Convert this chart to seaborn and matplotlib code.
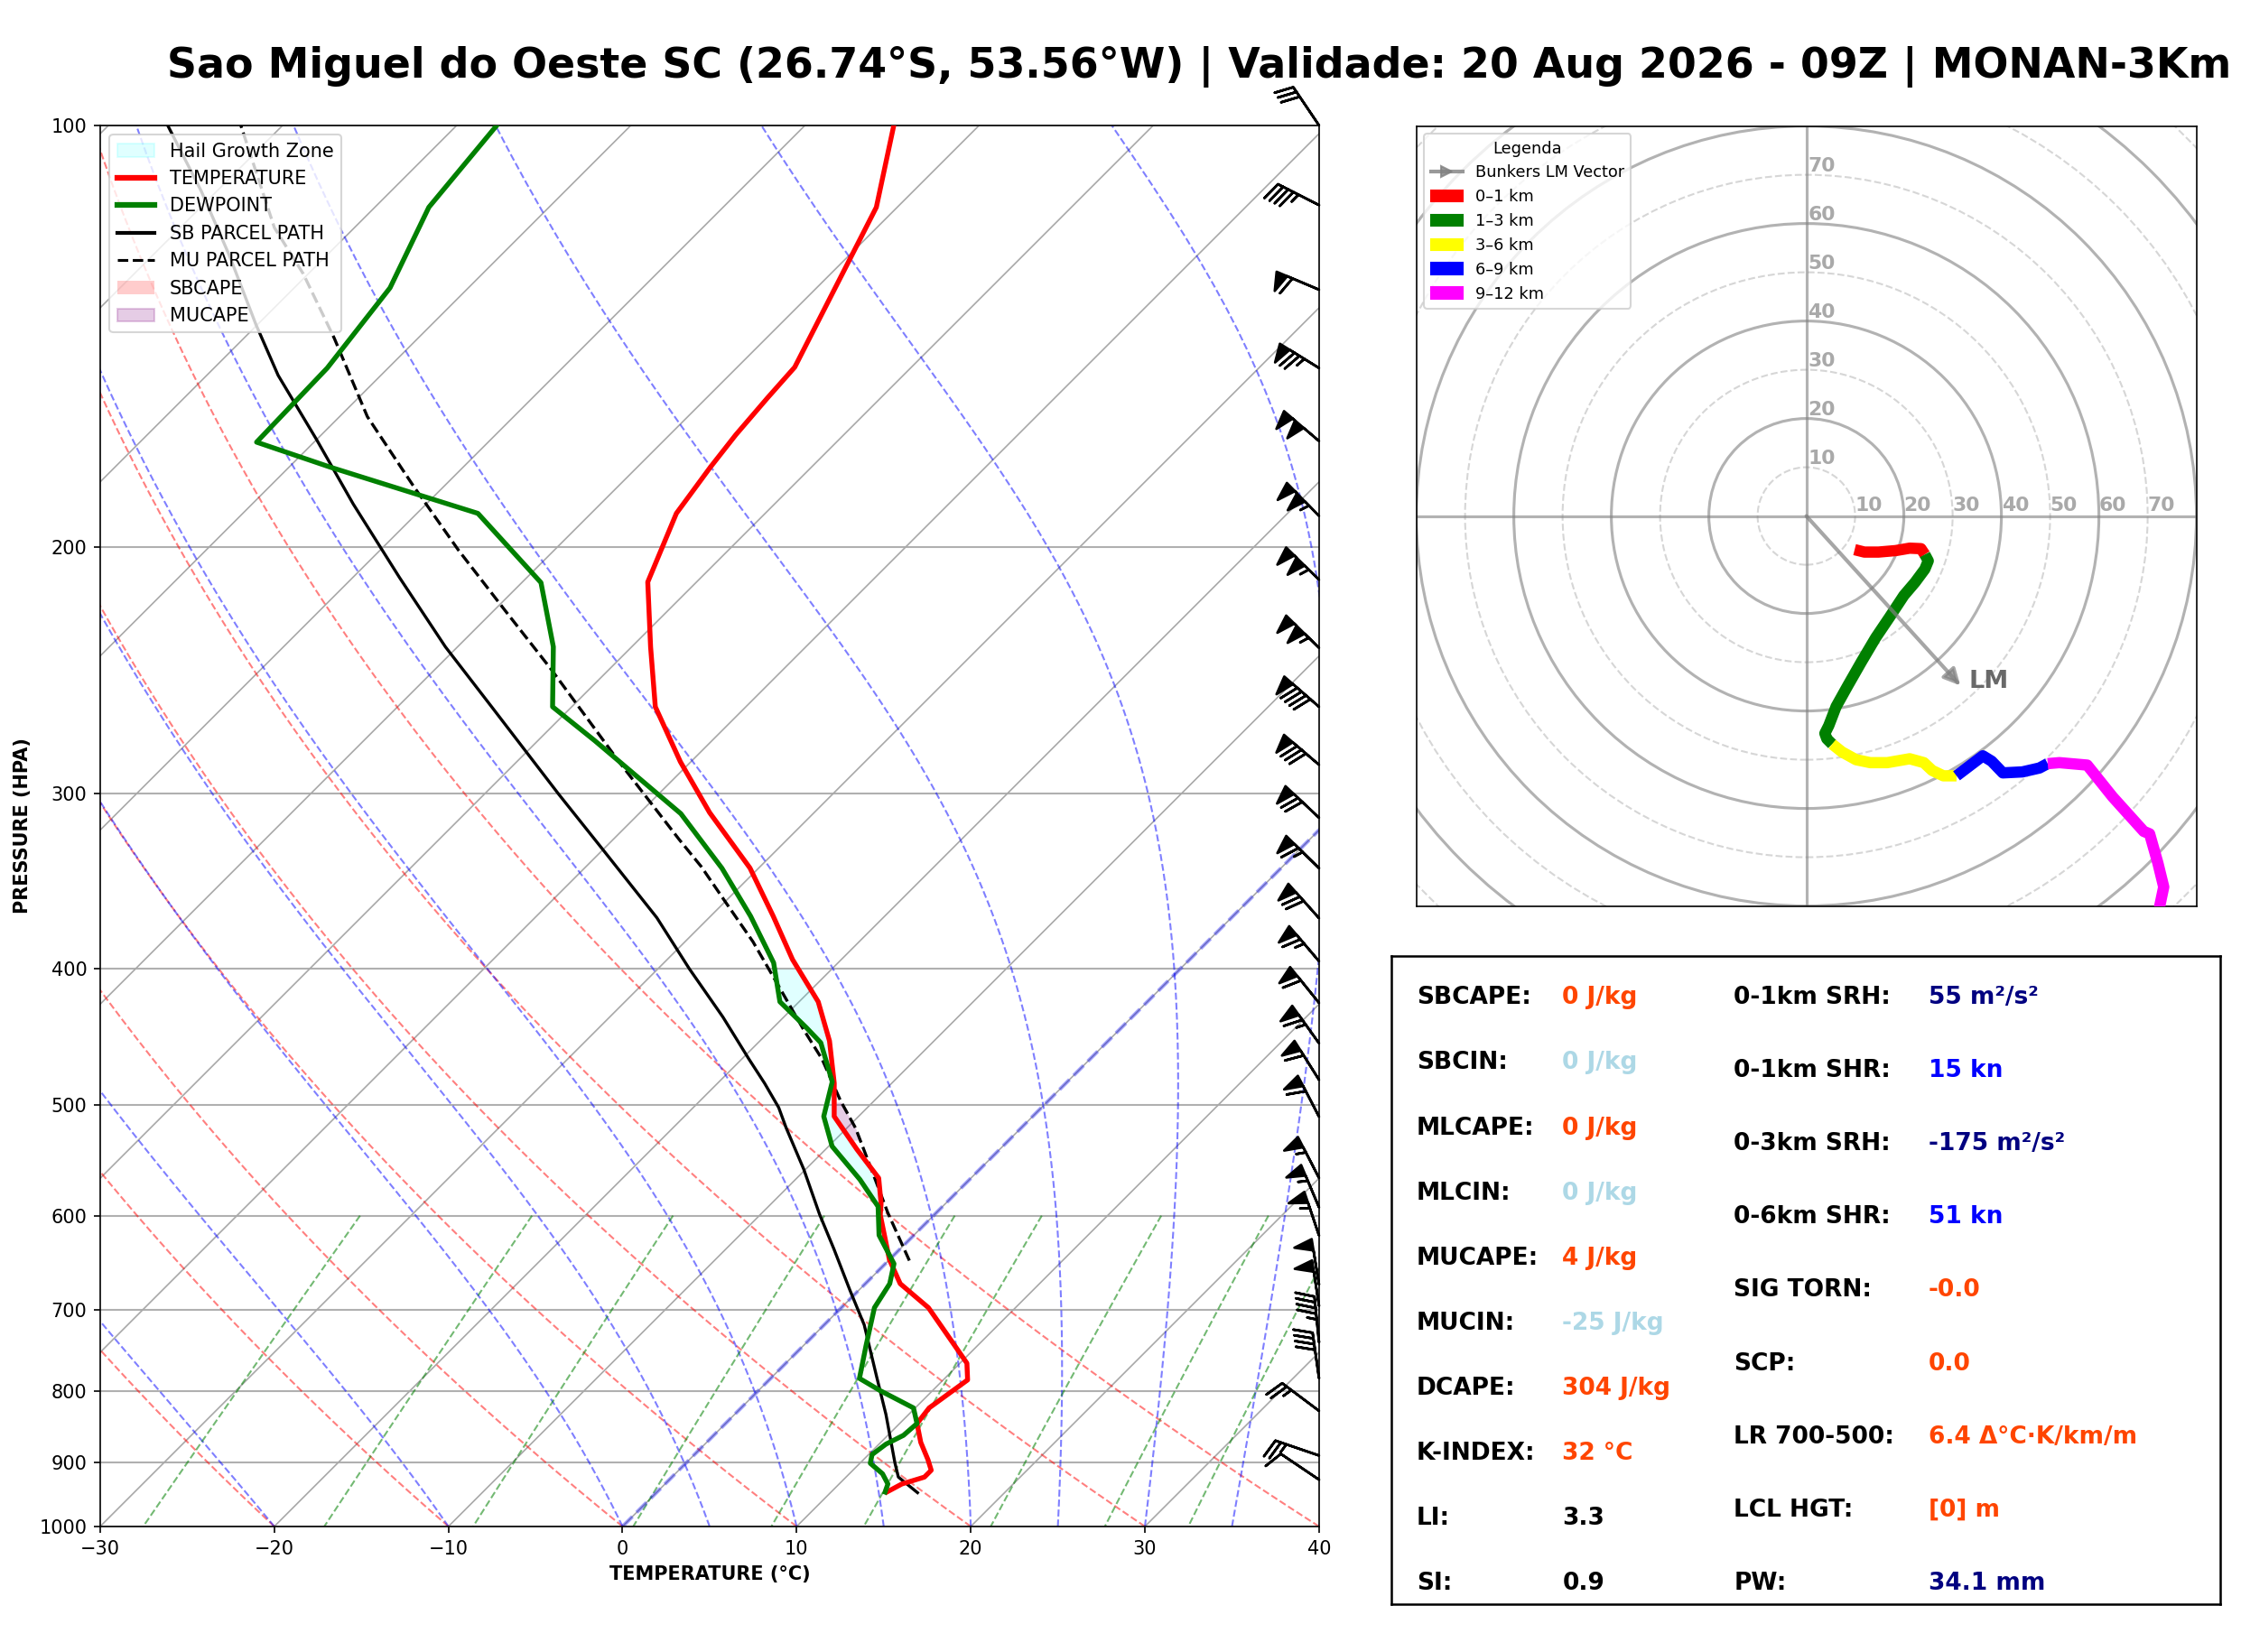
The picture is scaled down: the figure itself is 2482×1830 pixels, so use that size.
import numpy as np
import matplotlib
matplotlib.use("Agg")
import matplotlib.pyplot as plt
import matplotlib.transforms as mtransforms
from matplotlib.lines import Line2D
from matplotlib.patches import Patch, Circle
from matplotlib.ticker import NullLocator
import seaborn as sns

plt.rcParams['font.family'] = ['DejaVu Sans']

TITLE = "Sao Miguel do Oeste SC (26.74°S, 53.56°W) | Validade: 20 Aug 2026 - 09Z | MONAN-3Km"

# Sounding (pressure in hPa, temperature in degC)
temp_p = [945, 932.6, 922.1, 911.8, 896, 871, 844.4, 823, 786, 764.7, 743, 698, 671, 645,
          599.2, 588.2, 564.1, 538.1, 509.7, 482.7, 450.3, 422.2, 393.9, 366.8, 338.9, 309.4,
          284.6, 260, 235.7, 211.8, 189.2, 175.4, 166.3, 156.5, 148.8, 114.4, 100]
temp_c = [13.2, 13.6, 14.5, 14.5, 13.7, 12.3, 11.0, 10.8, 11.4, 10.4, 8.7, 5.0, 2.0, 0.0,
          -3.1, -3.7, -5.3, -8.2, -11.4, -13.3, -16.0, -18.9, -22.8, -26.4, -30.5, -36.0,
          -40.6, -45.2, -48.9, -52.8, -55.1, -55.8, -56.2, -56.5, -56.7, -61.2, -64.9]

dewp_p = [945, 932.6, 917, 901.4, 888.6, 873.5, 860.9, 844.4, 823, 800, 784, 743, 698, 671,
          649.4, 619.6, 591.1, 565.4, 535.4, 509.7, 481.5, 451.6, 440.5, 422.2, 396, 366.8,
          339, 309.9, 275, 260, 235.6, 212, 189.2, 175.4, 168.3, 149, 130.6, 114.4, 100]
dewp_c = [13.1, 12.8, 11.9, 10.6, 10.2, 10.4, 10.9, 11.0, 9.9, 7.0, 5.1, 3.6, 1.9, 1.4,
          0.5, -2.0, -3.7, -6.3, -9.8, -12.0, -13.5, -16.4, -18.1, -21.1, -23.7, -27.7,
          -32.1, -37.6, -46.7, -51.1, -54.5, -58.9, -66.5, -77.6, -83.3, -83.5, -84.5, -86.9, -87.7]

sb_p = [946, 922, 901, 832, 782, 718, 678.4, 633.8, 598.9, 556.1, 519.4, 502.3, 482.7, 463.8,
        432.9, 399.9, 367.7, 328.3, 300.3, 260, 235.6, 210.3, 186.3, 167.6, 150.8, 138.7,
        123.8, 111.4, 100]
sb_c = [15.0, 13.0, 12.0, 8.7, 6.0, 2.3, -0.5, -3.8, -6.6, -10.1, -13.5, -15.1, -17.3, -19.6,
        -23.5, -28.2, -33.0, -40.1, -45.7, -54.6, -60.7, -67.3, -74.2, -80.0, -85.9, -90.1,
        -95.6, -100.9, -106.6]

mu_p = [646, 597, 554, 519.6, 497.1, 463.8, 441.5, 412, 382.5, 358.7, 338, 323.4, 284.7,
        244.6, 221.8, 201, 180.8, 161.4, 141.9, 127.6, 118.3, 100]
mu_c = [1.2, -2.8, -6.4, -9.5, -11.9, -15.4, -18.2, -22.0, -26.1, -29.9, -33.4, -36.2, -44.1,
        -53.3, -59.4, -65.5, -71.8, -78.4, -84.8, -90.3, -94.6, -102.4]

hgz_top, hgz_bottom = 400, 590
mucape_top, mucape_bottom = 498, 530

# wind barbs (knots)
barb_p = [100, 114, 131, 149, 168, 190, 211, 236, 260, 286, 312, 339, 368, 395, 423, 452,
          480, 510, 564, 592, 620, 672, 696, 739, 784, 827, 890, 926]
barb_u = [16.8, 40.1, 55.3, 63.7, 76.0, 73.3, 75.0, 74.9, 67.9, 60.8, 51.0, 46.3, 46.6, 42.1,
          37.7, 37.7, 32.0, 27.6, 25.2, 21.4, 17.5, 8.0, 7.5, 4.5, 5.6, 20.0, 23.7, 8.3]
barb_v = [-24.9, -20.4, -23.4, -39.5, -65.0, -75.2, -73.6, -73.6, -59.1, -52.0, -48.0, -45.6,
          -52.2, -49.5, -46.7, -52.7, -50.8, -53.3, -48.9, -50.7, -52.1, -49.4, -49.4, -44.8,
          -39.6, -15.0, -8.1, -5.6]

# hodograph layers (knots)
hodo_01_u = [9.9, 11.9, 14.8, 18.3, 21.2, 23.5, 24.3]
hodo_01_v = [-6.9, -7.4, -7.4, -7.1, -6.6, -6.7, -7.9]
hodo_13_u = [24.3, 25.0, 24.3, 22.3, 20.0, 17.1, 14.2, 11.3, 8.5, 6.1, 4.6, 3.8, 4.2, 5.3]
hodo_13_v = [-7.9, -9.2, -10.9, -13.6, -16.3, -20.7, -25.0, -29.9, -34.8, -39.1, -43.0, -44.6, -45.7, -46.8]
hodo_36_u = [5.3, 7.3, 10.2, 13.1, 16.6, 21.2, 24.1, 25.8, 28.1, 30.8]
hodo_36_v = [-46.8, -48.4, -50.0, -50.6, -50.6, -49.8, -50.6, -52.2, -53.3, -53.3]
hodo_69_u = [30.8, 33.3, 36.2, 38.0, 40.3, 44.3, 47.8, 49.5]
hodo_69_v = [-53.3, -51.4, -49.2, -50.3, -52.7, -52.5, -51.7, -50.8]
hodo_912_u = [49.5, 51.9, 57.6, 62.8, 69.2, 70.4, 72.1, 73.3, 72.5, 72.0]
hodo_912_v = [-50.8, -50.6, -51.1, -57.6, -64.7, -65.2, -71.2, -76.1, -79.9, -84.0]
lm_u, lm_v = 31.6, -34.8

# indices box
left_labels = ['SBCAPE:', 'SBCIN:', 'MLCAPE:', 'MLCIN:', 'MUCAPE:', 'MUCIN:', 'DCAPE:',
               'K-INDEX:', 'LI:', 'SI:']
left_values = ['0 J/kg', '0 J/kg', '0 J/kg', '0 J/kg', '4 J/kg', '-25 J/kg', '304 J/kg',
               '32 °C', '3.3', '0.9']
left_colors = ['orangered', 'lightblue', 'orangered', 'lightblue', 'orangered', 'lightblue',
               'orangered', 'orangered', 'black', 'black']
right_labels = ['0-1km SRH:', '0-1km SHR:', '0-3km SRH:', '0-6km SHR:', 'SIG TORN:', 'SCP:',
                'LR 700-500:', 'LCL HGT:', 'PW:']
right_values = ['55 m²/s²', '15 kn', '-175 m²/s²', '51 kn', '-0.0', '0.0',
                '6.4 Δ°C·K/km/m', '[0] m', '34.1 mm']
right_colors = ['navy', 'blue', 'navy', 'blue', 'orangered', 'orangered', 'orangered',
                'orangered', 'navy']

DPI = 150
FW, FH = 2482, 1830
fig = plt.figure(figsize=(FW / DPI, FH / DPI), dpi=DPI)

# ---------------- Skew-T ----------------
rect = [0.0447, 0.076, 0.5439, 0.8481]
ax = fig.add_axes(rect)
SK = 70.0 * (rect[3] * FH) / (rect[2] * FW)   # 45 degree skew


def skew(t, p):
    return np.asarray(t, float) + SK * np.log10(1000.0 / np.asarray(p, float))


ax.set_yscale('log')
pp = np.linspace(1000, 100, 181)

# isotherms
for t in range(-120, 41, 10):
    ax.plot(skew(np.full_like(pp, t), pp), pp, color='#a8a8a8', lw=0.8, zorder=1)

# dry adiabats
for t0 in range(-30, 41, 10):
    tt = (t0 + 273.15) * (pp / 1000.0) ** 0.2857 - 273.15
    ax.plot(skew(tt, pp), pp, color='r', ls='--', lw=1, alpha=0.5, zorder=1)

# moist adiabats
Rd, Cp, Lv, eps = 287.04749, 1004.6662, 2.50084e6, 0.621957


def dtdp(T, p):
    es = 6.112 * np.exp(17.67 * (T - 273.15) / (T - 29.65))
    rs = eps * es / (p - es)
    return (Rd * T + Lv * rs) / (Cp + Lv * Lv * rs * eps / (Rd * T * T)) / p


for t0 in [-30, -20, -10] + list(range(0, 41, 5)):
    T = np.empty_like(pp)
    T[0] = t0 + 273.15
    for i in range(1, len(pp)):
        h = pp[i] - pp[i - 1]
        y, x = T[i - 1], pp[i - 1]
        k1 = dtdp(y, x)
        k2 = dtdp(y + h * k1 / 2, x + h / 2)
        k3 = dtdp(y + h * k2 / 2, x + h / 2)
        k4 = dtdp(y + h * k3, x + h)
        T[i] = y + h * (k1 + 2 * k2 + 2 * k3 + k4) / 6
    ax.plot(skew(T - 273.15, pp), pp, color='b', ls='--', lw=1, alpha=0.5, zorder=1)

# mixing ratio lines
pm = np.linspace(600, 1000, 50)
for w in [0.0004, 0.001, 0.002, 0.004, 0.007, 0.01, 0.016, 0.024, 0.032]:
    e = pm * w / (eps + w)
    le = np.log(e / 6.112)
    td = 243.5 * le / (17.67 - le)
    ax.plot(skew(td, pm), pm, color='g', ls='--', lw=1, alpha=0.55, zorder=1)

# 0 C isotherm
ax.plot(skew(np.zeros_like(pp), pp), pp, color='blue', ls='--', lw=2, alpha=0.35, zorder=2)

# hail growth zone and MUCAPE shading
tp_r, tc_r = np.array(temp_p)[::-1], np.array(temp_c)[::-1]
dp_r, dc_r = np.array(dewp_p)[::-1], np.array(dewp_c)[::-1]
pg = np.linspace(hgz_top, hgz_bottom, 200)
t_i = np.interp(pg, tp_r, tc_r)
d_i = np.interp(pg, dp_r, dc_r)
ax.fill_betweenx(pg, skew(d_i, pg), skew(t_i, pg), color='cyan', alpha=0.12, lw=0, zorder=3)

pg2 = np.linspace(mucape_top, mucape_bottom, 100)
t2 = np.interp(pg2, tp_r, tc_r)
m2 = np.interp(pg2, np.array(mu_p)[::-1], np.array(mu_c)[::-1])
ax.fill_betweenx(pg2, skew(t2, pg2), skew(m2, pg2), where=m2 > t2, color='purple',
                 alpha=0.2, lw=0, zorder=3)

# profiles
sns.lineplot(x=skew(temp_c, temp_p), y=temp_p, sort=False, estimator=None, color='red',
             linewidth=2.6, ax=ax, zorder=6)
sns.lineplot(x=skew(dewp_c, dewp_p), y=dewp_p, sort=False, estimator=None, color='green',
             linewidth=2.6, ax=ax, zorder=6)
sns.lineplot(x=skew(sb_c, sb_p), y=sb_p, sort=False, estimator=None, color='black',
             linewidth=1.6, ax=ax, zorder=5)
sns.lineplot(x=skew(mu_c, mu_p), y=mu_p, sort=False, estimator=None, color='black',
             linewidth=1.6, linestyle='--', ax=ax, zorder=5)

# wind barbs on right edge (southern hemisphere convention)
bt = mtransforms.blended_transform_factory(ax.transAxes, ax.transData)
ax.barbs(np.ones(len(barb_p)), barb_p, barb_u, barb_v, transform=bt, clip_on=False,
         length=7, linewidth=1.3, color='black', flip_barb=True, zorder=10)

ax.set_ylim(1000, 100)
ax.set_xlim(-30, 40)
ax.set_yticks(range(100, 1001, 100))
ax.set_yticklabels([str(v) for v in range(100, 1001, 100)])
ax.yaxis.set_minor_locator(NullLocator())
ax.set_xticks(range(-30, 41, 10))
ax.yaxis.grid(True, color='#b0b0b0', lw=1.0, zorder=1)
ax.set_axisbelow(True)
ax.set_xlabel('TEMPERATURE (°C)', fontsize=10, fontweight='bold')
ax.set_ylabel('PRESSURE (HPA)', fontsize=10, fontweight='bold')

skew_handles = [
    Patch(facecolor='cyan', alpha=0.12, edgecolor='cyan', label='Hail Growth Zone'),
    Line2D([], [], color='red', lw=3, label='TEMPERATURE'),
    Line2D([], [], color='green', lw=3, label='DEWPOINT'),
    Line2D([], [], color='black', lw=2, label='SB PARCEL PATH'),
    Line2D([], [], color='black', lw=1.5, ls='--', label='MU PARCEL PATH'),
    Patch(facecolor='red', alpha=0.2, label='SBCAPE'),
    Patch(facecolor='purple', alpha=0.2, edgecolor='purple', label='MUCAPE'),
]
ax.legend(handles=skew_handles, loc='upper left', fontsize=10, framealpha=0.8)

# ---------------- Hodograph ----------------
hx = fig.add_axes([0.632, 0.4516, 0.3481, 0.4721])
for r in range(10, 121, 10):
    if r % 20 == 0:
        hx.add_patch(Circle((0, 0), r, fill=False, color='gray', lw=1.5, alpha=0.6, zorder=1))
    else:
        hx.add_patch(Circle((0, 0), r, fill=False, color='#cccccc', lw=1, ls='--',
                            alpha=0.8, zorder=1))
hx.axhline(0, color='gray', lw=1.5, alpha=0.6, zorder=1)
hx.axvline(0, color='gray', lw=1.5, alpha=0.6, zorder=1)
for r in range(10, 71, 10):
    hx.text(r, 0.3, str(r), color='#a9a9a9', fontsize=10.5, fontweight='bold',
            ha='left', va='bottom', zorder=2)
    hx.text(0.3, r, str(r), color='#a9a9a9', fontsize=10.5, fontweight='bold',
            ha='left', va='bottom', zorder=2)

layers = [(hodo_01_u, hodo_01_v, 'red'), (hodo_13_u, hodo_13_v, 'green'),
          (hodo_36_u, hodo_36_v, 'yellow'), (hodo_69_u, hodo_69_v, 'blue'),
          (hodo_912_u, hodo_912_v, 'magenta')]
for uu, vv, c in layers:
    sns.lineplot(x=uu, y=vv, sort=False, estimator=None, color=c, linewidth=6,
                 solid_capstyle='butt', ax=hx, zorder=4)

hx.annotate('', xy=(lm_u, lm_v), xytext=(0, 0),
            arrowprops=dict(arrowstyle='-|>', color='gray', lw=2, alpha=0.7,
                            mutation_scale=18, shrinkA=0, shrinkB=0), zorder=5)
hx.text(lm_u + 1.8, lm_v + 0.8, 'LM', fontsize=13, fontweight='bold', color='dimgray',
        ha='left', va='center', zorder=5)

hx.set_xlim(-80, 80)
hx.set_ylim(-80, 80)
hx.set_xticks([])
hx.set_yticks([])
hx.set_xlabel('')
hx.set_ylabel('')
hodo_handles = [
    Line2D([], [], color='gray', lw=2, marker='>', markersize=6, alpha=0.8, label='Bunkers LM Vector'),
    Patch(color='red', label='0–1 km'),
    Patch(color='green', label='1–3 km'),
    Patch(color='yellow', label='3–6 km'),
    Patch(color='blue', label='6–9 km'),
    Patch(color='magenta', label='9–12 km'),
]
hx.legend(handles=hodo_handles, loc='upper left', title='Legenda', fontsize=8.5, title_fontsize=8.5)

# ---------------- Indices box ----------------
sx = fig.add_axes([0.621, 0.0287, 0.3698, 0.3927])
sx.set_xlim(0, 1)
sx.set_ylim(0, 1)
sx.set_xticks([])
sx.set_yticks([])
for s in sx.spines.values():
    s.set_linewidth(1.2)

ly = np.linspace(0.939, 0.036, len(left_labels)) - 0.0135
for y, lab, val, col in zip(ly, left_labels, left_values, left_colors):
    sx.text(0.03, y, lab, fontsize=12.7, fontweight='bold', va='baseline')
    sx.text(0.206, y, val, fontsize=12.7, fontweight='bold', va='baseline', color=col)
ry = np.linspace(0.939, 0.037, len(right_labels)) - 0.0135
for y, lab, val, col in zip(ry, right_labels, right_values, right_colors):
    sx.text(0.413, y, lab, fontsize=12.7, fontweight='bold', va='baseline')
    sx.text(0.648, y, val, fontsize=12.7, fontweight='bold', va='baseline', color=col)

fig.text(0.0745, 1 - 86 / FH, TITLE, fontsize=22, fontweight='bold', ha='left', va='baseline')

fig.savefig('out.png', dpi=DPI)
